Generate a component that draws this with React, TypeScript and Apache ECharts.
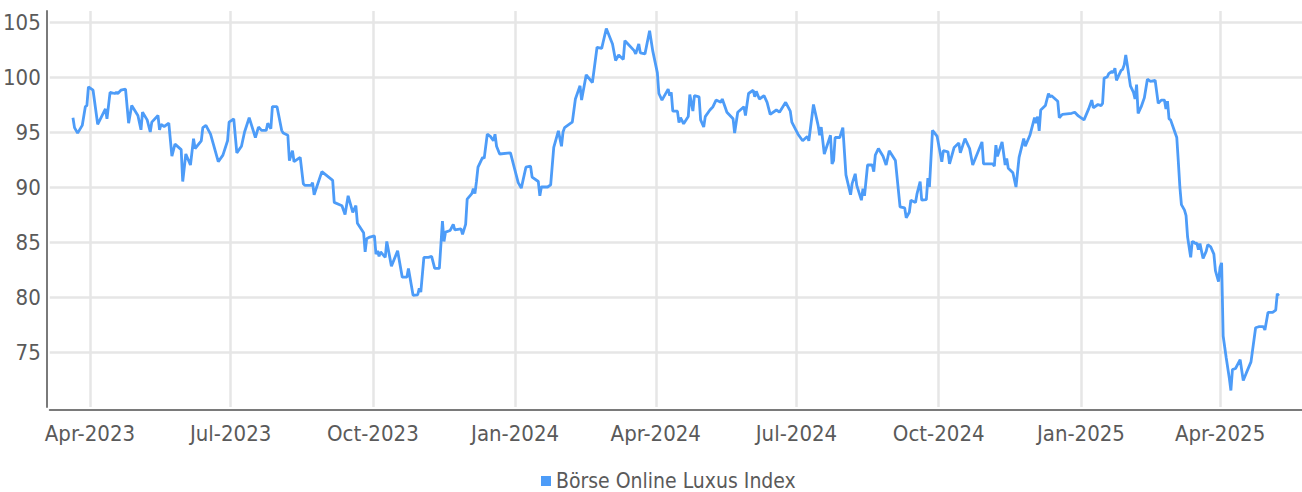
import React, { useEffect, useRef } from "react";
import * as echarts from "echarts";

const SERIES_NAME = "Börse Online Luxus Index";
const AXIS_START = "2023-03-06";
const AXIS_DAYS = 811;
const MONTHS = ["Jan","Feb","Mar","Apr","May","Jun","Jul","Aug","Sep","Oct","Nov","Dec"];
const QUARTER_MONTHS = ["01", "04", "07", "10"];
const Y_MIN = 70;
const Y_MAX = 106;
const Y_STEP = 5;

const points2023: [string, number][] = [
  ["03-21",96.3],["03-22",95.4],["03-24",94.9],["03-27",95.6],["03-29",97.3],["03-30",97.4],["03-31",99.1],
  ["04-03",98.8],["04-06",95.7],["04-11",97.1],["04-12",96.2],["04-14",98.6],["04-17",98.5],["04-18",98.6],
  ["04-19",98.5],["04-21",98.8],["04-24",98.9],["04-26",95.8],["04-28",97.4],["05-02",96.5],["05-04",95.2],
  ["05-05",96.8],["05-08",96.1],["05-10",95.0],["05-11",95.9],["05-15",96.5],["05-16",95.2],["05-17",95.7],
  ["05-19",95.5],["05-22",95.8],["05-24",92.8],["05-26",93.9],["05-30",93.4],["05-31",90.5],["06-02",93.0],
  ["06-05",92.0],["06-07",94.4],["06-08",93.5],["06-12",94.2],["06-13",95.4],["06-15",95.6],["06-18",94.8],
  ["06-23",92.3],["06-26",92.9],["06-29",94.2],["06-30",95.9],["07-03",96.2],["07-05",93.1],["07-08",93.7],
  ["07-10",95.0],["07-13",96.3],["07-17",94.5],["07-19",95.45],["07-21",95.15],["07-24",95.15],["07-25",95.8],
  ["07-27",95.3],["07-28",97.3],["07-31",97.3],["08-03",95.15],["08-04",94.9],["08-07",94.7],["08-08",92.4],
  ["08-10",93.3],["08-11",92.3],["08-14",92.6],["08-15",92.7],["08-17",90.3],["08-18",90.15],["08-22",90.15],
  ["08-23",90.4],["08-24",89.3],["08-29",91.4],["09-05",90.6],["09-06",88.6],["09-11",88.3],["09-13",87.5],
  ["09-15",89.2],["09-18",87.7],["09-20",88.3],["09-21",86.7],["09-25",85.85],["09-26",84.1],["09-27",85.3],
  ["09-29",85.45],["10-02",85.55],["10-03",83.9],["10-04",84.2],["10-05",83.7],["10-06",84.1],["10-09",83.6],
  ["10-10",85.05],["10-13",82.8],["10-17",84.2],["10-20",81.8],["10-23",81.8],["10-24",82.6],["10-27",80.15],
  ["10-30",80.2],["10-31",80.8],["11-01",80.45],["11-03",83.6],["11-06",83.6],["11-08",83.7],["11-10",82.6],
  ["11-13",82.6],["11-15",86.9],["11-16",85.05],["11-17",85.9],["11-20",86.05],["11-22",86.6],["11-23",86.1],
  ["11-27",86.2],["11-28",85.7],["11-30",86.6],["12-01",88.9],["12-04",89.4],["12-05",89.85],["12-06",89.4],
  ["12-07",90.5],["12-08",91.8],["12-11",92.7],["12-12",92.6],["12-14",94.8],["12-16",94.6],["12-18",94.2],
  ["12-19",94.8],["12-20",93.7],["12-22",93.0],["12-29",93.1],
];

const points2024: [string, number][] = [
  ["01-03",90.4],["01-05",89.9],["01-08",91.8],["01-11",91.9],["01-12",90.9],["01-16",90.5],["01-17",89.2],
  ["01-18",90.0],["01-22",90.0],["01-24",90.2],["01-26",93.6],["01-29",95.1],["01-31",93.7],["02-01",95.0],
  ["02-02",95.4],["02-06",95.8],["02-07",95.9],["02-09",98.0],["02-12",99.2],["02-13",97.9],["02-16",100.2],
  ["02-20",99.5],["02-23",102.7],["02-26",102.6],["02-27",103.2],["02-29",104.4],["03-04",103.0],["03-06",101.5],
  ["03-08",102.0],["03-11",101.6],["03-12",103.3],["03-14",103.0],["03-18",102.4],["03-19",102.1],["03-21",103.0],
  ["03-22",102.2],["03-25",102.1],["03-28",104.2],["03-30",102.4],["04-02",100.4],["04-03",98.5],["04-05",97.9],
  ["04-09",98.9],["04-10",98.3],["04-11",98.6],["04-12",96.9],["04-15",96.9],["04-16",95.85],["04-17",96.3],
  ["04-19",95.75],["04-22",96.4],["04-23",98.4],["04-25",96.9],["04-26",98.3],["04-29",98.2],["04-30",96.1],
  ["05-02",95.45],["05-03",96.4],["05-06",97.0],["05-08",97.3],["05-10",97.9],["05-13",97.7],["05-14",98.0],
  ["05-16",97.2],["05-17",96.8],["05-21",96.2],["05-22",94.9],["05-24",96.8],["05-28",97.3],["05-29",96.5],
  ["05-31",98.5],["06-03",98.8],["06-04",98.2],["06-05",98.7],["06-07",98.0],["06-10",98.3],["06-12",97.7],
  ["06-14",96.6],["06-18",97.0],["06-20",96.8],["06-24",97.7],["06-27",96.9],["06-28",95.9],["07-02",94.8],
  ["07-05",94.2],["07-08",94.6],["07-09",94.2],["07-12",97.5],["07-15",95.6],["07-16",94.7],["07-17",95.45],
  ["07-19",93.0],["07-23",94.7],["07-24",92.1],["07-25",92.4],["07-26",94.5],["07-29",94.5],["07-31",95.4],
  ["08-02",91.1],["08-05",89.3],["08-06",90.3],["08-08",91.2],["08-09",90.15],["08-12",88.8],["08-13",89.85],
  ["08-14",89.2],["08-16",92.0],["08-19",92.0],["08-20",91.4],["08-21",92.9],["08-23",93.5],["08-26",92.8],
  ["08-28",92.0],["08-30",93.3],["09-03",92.4],["09-06",88.2],["09-09",88.1],["09-10",87.2],["09-12",87.7],
  ["09-13",88.8],["09-16",88.6],["09-17",89.4],["09-19",90.5],["09-20",88.8],["09-23",88.85],["09-24",90.8],
  ["09-25",90.0],["09-27",95.15],["09-30",94.6],["10-03",92.3],["10-04",93.3],["10-07",93.2],["10-08",92.1],
  ["10-11",93.6],["10-14",94.0],["10-15",93.1],["10-18",94.4],["10-21",93.5],["10-23",92.0],["10-29",94.1],
  ["10-30",92.1],["11-05",92.1],["11-06",91.9],["11-07",93.8],["11-08",92.8],["11-11",94.1],["11-13",92.0],
  ["11-14",92.6],["11-15",91.7],["11-18",91.3],["11-20",90.0],["11-22",92.7],["11-25",94.4],["11-26",93.7],
  ["11-29",94.7],["12-02",96.3],["12-03",95.8],["12-04",96.4],["12-05",95.1],["12-06",97.0],["12-09",97.4],
  ["12-11",98.5],["12-12",98.2],["12-13",98.3],["12-17",97.8],["12-18",96.3],["12-20",96.6],["12-26",96.7],
  ["12-28",96.8],["12-30",96.5],["12-31",96.4],
];

const points2025: [string, number][] = [
  ["01-03",96.1],["01-06",97.1],["01-08",97.9],["01-09",97.2],["01-12",97.5],["01-14",97.4],["01-15",97.6],
  ["01-16",99.9],["01-18",100.0],["01-19",100.3],["01-21",100.5],["01-22",100.4],["01-23",100.8],["01-24",99.7],
  ["01-26",100.3],["01-27",100.6],["01-28",100.7],["01-29",101.1],["01-30",102.0],["01-31",101.1],["02-02",99.2],
  ["02-04",98.6],["02-05",98.0],["02-06",99.3],["02-07",96.7],["02-09",97.3],["02-10",97.7],["02-11",98.1],
  ["02-13",99.8],["02-15",99.6],["02-18",99.7],["02-20",97.6],["02-22",97.9],["02-24",97.9],["02-25",97.1],
  ["02-26",97.8],["02-27",96.2],["02-28",96.1],["03-02",95.3],["03-04",94.5],["03-05",92.3],["03-06",90.0],
  ["03-07",88.4],["03-09",87.9],["03-10",87.4],["03-11",85.45],["03-13",83.6],["03-14",85.05],["03-15",85.0],
  ["03-16",84.85],["03-17",84.9],["03-18",84.3],["03-19",84.85],["03-21",83.5],["03-23",84.15],["03-24",84.75],
  ["03-26",84.55],["03-28",83.9],["03-29",82.4],["03-30",81.9],["03-31",81.4],["04-01",82.7],["04-02",83.1],
  ["04-03",76.45],["04-05",74.45],["04-07",72.6],["04-08",71.5],["04-09",73.4],["04-11",73.5],["04-14",74.3],
  ["04-16",72.4],["04-18",73.1],["04-21",74.1],["04-24",77.2],["04-26",77.3],["04-29",77.3],["04-30",77.0],
  ["05-02",78.6],["05-05",78.6],["05-07",78.8],["05-08",80.3],["05-09",80.1],
];

const FONT = "'Liberation Sans Narrow', 'DejaVu Sans Condensed', 'Roboto', sans-serif";
const TEXT_COLOR = "#5a5a5a";
const GRID_COLOR = "#e6e6e6";
const AXIS_COLOR = "#7a7a7a";
const LINE_COLOR = "#4d9cf8";

function buildCategories(): string[] {
  const [y, m, d] = AXIS_START.split("-").map(Number);
  const start = Date.UTC(y, m - 1, d);
  const out: string[] = [];
  for (let i = 0; i < AXIS_DAYS; i++) {
    out.push(new Date(start + i * 86400000).toISOString().slice(0, 10));
  }
  return out;
}

const isQuarterStart = (_i: number, v: string) =>
  v.slice(8, 10) === "01" && QUARTER_MONTHS.includes(v.slice(5, 7));

export default function App() {
  const ref = useRef<HTMLDivElement>(null);

  useEffect(() => {
    if (!ref.current) return;
    const chart = echarts.init(ref.current, null, { renderer: "svg" });
    const categories = buildCategories();
    const data = [
      ...points2023.map(([d, v]) => ["2023-" + d, v]),
      ...points2024.map(([d, v]) => ["2024-" + d, v]),
      ...points2025.map(([d, v]) => ["2025-" + d, v]),
    ];
    chart.setOption({
      animation: false,
      textStyle: { fontFamily: FONT },
      grid: { left: 49, right: 0, top: 11, bottom: 85, containLabel: false },
      legend: {
        data: [SERIES_NAME],
        left: 541,
        top: 469,
        icon: "rect",
        itemWidth: 10,
        itemHeight: 10,
        itemGap: 10,
        padding: 0,
        textStyle: { fontSize: 21, lineHeight: 24, color: TEXT_COLOR, fontFamily: FONT },
      },
      xAxis: {
        type: "category",
        data: categories,
        boundaryGap: false,
        offset: 3,
        axisLine: { show: true, lineStyle: { color: AXIS_COLOR, width: 2 } },
        axisTick: { show: false },
        axisLabel: {
          interval: isQuarterStart,
          margin: 12,
          fontSize: 22,
          color: TEXT_COLOR,
          fontFamily: FONT,
          formatter: (v: string) => MONTHS[Number(v.slice(5, 7)) - 1] + "-" + v.slice(0, 4),
        },
        splitLine: {
          show: true,
          interval: isQuarterStart,
          lineStyle: { color: GRID_COLOR, width: 2.5 },
        },
      },
      yAxis: {
        type: "value",
        min: Y_MIN,
        max: Y_MAX,
        interval: Y_STEP,
        offset: 3,
        axisLine: { show: true, lineStyle: { color: AXIS_COLOR, width: 2 } },
        axisTick: { show: false },
        axisLabel: {
          showMinLabel: false,
          showMaxLabel: false,
          margin: 6,
          fontSize: 22,
          color: TEXT_COLOR,
          fontFamily: FONT,
        },
        splitLine: {
          show: true,
          showMinLine: false,
          showMaxLine: false,
          lineStyle: { color: GRID_COLOR, width: 2.5 },
        },
      },
      series: [
        {
          name: SERIES_NAME,
          type: "line",
          data,
          showSymbol: false,
          symbol: "none",
          lineStyle: { color: LINE_COLOR, width: 2.8 },
          itemStyle: { color: LINE_COLOR },
        },
      ],
    });
    return () => chart.dispose();
  }, []);

  return (
    <div
      ref={ref}
      style={{ position: "fixed", left: 0, top: 0, width: 1302, height: 492, background: "#fff" }}
    />
  );
}
